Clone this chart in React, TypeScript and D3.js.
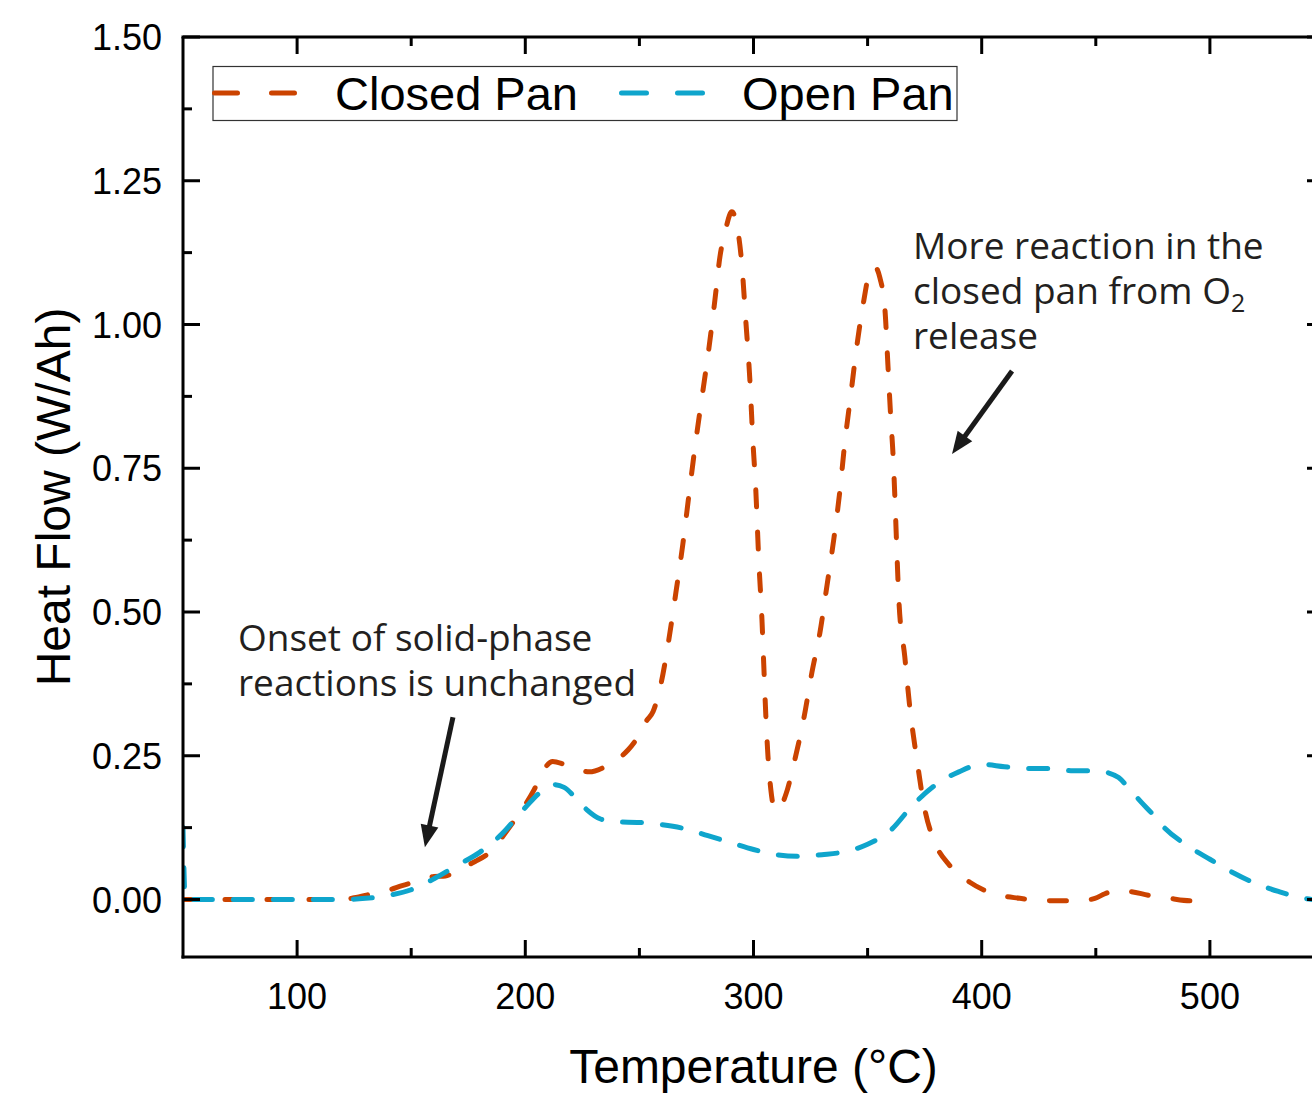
import React from "react";
import * as d3 from "d3";

// DSC heat flow vs temperature, closed vs open pan
const closedTemp = [
  50, 60, 80, 100, 120, 125, 132, 140, 146, 152, 160, 165, 172, 178, 186, 192, 198, 204, 208, 212,
  217, 222, 228, 235, 240, 245, 250, 253, 256, 259.4, 262.9, 266, 269, 272, 274.8, 277.4, 280.5,
  283.1, 285.3, 287.5, 290.5, 292.7, 294.9, 296.6, 298.4, 299.7, 301, 302.3, 303.7, 304.5, 305.4,
  306.3, 307.6, 309.4, 311.6, 314.2, 318.1, 322.1, 325.6, 329.1, 332.2, 335.2, 337.8, 340, 342.7,
  345.3, 348.4, 351, 353.2, 355.4, 357.6, 358.9, 360.2, 361.1, 362, 362.8, 363.7, 366.3, 368.5,
  371.6, 375.1, 379.5, 386, 394.8, 403.6, 416.7, 429.8, 443, 449.6, 454, 459.2, 464.9, 473.7,
  482.4, 491.2, 499,
];
const closedHeat = [
  0, 0, 0, 0, 0, 0.003, 0.009, 0.016, 0.024, 0.031, 0.04, 0.041, 0.055, 0.066, 0.088, 0.12, 0.153,
  0.192, 0.225, 0.24, 0.235, 0.228, 0.222, 0.231, 0.243, 0.26, 0.287, 0.31, 0.327, 0.374, 0.452,
  0.534, 0.617, 0.713, 0.8, 0.873, 0.96, 1.043, 1.118, 1.16, 1.196, 1.173, 1.104, 1.008, 0.904, 0.8,
  0.713, 0.591, 0.487, 0.408, 0.32, 0.252, 0.191, 0.156, 0.16, 0.183, 0.243, 0.316, 0.395, 0.464,
  0.546, 0.627, 0.709, 0.794, 0.88, 0.963, 1.043, 1.093, 1.1, 1.081, 1.026, 0.93, 0.834, 0.777,
  0.695, 0.608, 0.521, 0.422, 0.334, 0.243, 0.156, 0.099, 0.059, 0.03, 0.012, 0.002, -0.002,
  -0.002, 0.002, 0.01, 0.016, 0.014, 0.007, 0.002, -0.002, -0.002,
];

const openTemp = [
  50, 51, 60, 80, 100, 120, 130, 140, 150, 160, 170, 180, 190, 200, 207, 212, 217, 222, 227, 233,
  240, 250, 260, 270, 280, 290, 300, 310, 320, 330, 340, 350, 360, 370, 380, 390, 400, 410, 420,
  430, 440, 450, 455, 460, 465, 470, 475, 480, 490, 500, 510, 520, 530, 540, 545,
];
const openHeat = [
  0.125, 0, 0, 0, 0, 0, 0.002, 0.007, 0.017, 0.036, 0.059, 0.082, 0.115, 0.16, 0.188, 0.2, 0.195,
  0.177, 0.156, 0.14, 0.135, 0.134, 0.13, 0.123, 0.111, 0.099, 0.087, 0.078, 0.075, 0.078, 0.083,
  0.096, 0.12, 0.165, 0.2, 0.222, 0.235, 0.231, 0.228, 0.228, 0.224, 0.224, 0.221, 0.212, 0.191,
  0.169, 0.148, 0.125, 0.094, 0.07, 0.047, 0.028, 0.014, 0.003, 0,
];

const seriesNames = ["Closed Pan", "Open Pan"];
const seriesColors = ["#CB4300", "#0FA5CC"];

const xMajor = [100, 200, 300, 400, 500];
const xMinor = [150, 250, 350, 450];
const yMajor = [0, 0.25, 0.5, 0.75, 1.0, 1.25, 1.5];
const yMinor = [0.125, 0.375, 0.625, 0.875, 1.125, 1.375];

const xTitle = "Temperature (°C)";
const yTitle = "Heat Flow (W/Ah)";

const W = 1312;
const H = 1108;
const L = 183;
const R = 1324;
const T = 37;
const B = 957;

const axisFont = "'Liberation Sans', Arial, Helvetica, sans-serif";
const noteFont = "'Open Sans', 'Noto Sans', sans-serif";

function Arrow({ x1, y1, x2, y2 }: { x1: number; y1: number; x2: number; y2: number }) {
  const dx = x2 - x1;
  const dy = y2 - y1;
  const len = Math.hypot(dx, dy);
  const ux = dx / len;
  const uy = dy / len;
  const headLen = 22;
  const halfW = 9;
  const bx = x2 - ux * headLen;
  const by = y2 - uy * headLen;
  const px = -uy;
  const py = ux;
  return (
    <g>
      <line x1={x1} y1={y1} x2={bx + ux * 2} y2={by + uy * 2} stroke="#1a1a1a" strokeWidth={5} />
      <polygon
        points={`${x2},${y2} ${bx + px * halfW},${by + py * halfW} ${bx - px * halfW},${by - py * halfW}`}
        fill="#1a1a1a"
      />
    </g>
  );
}

export default function App() {
  const x = d3.scaleLinear().domain([50, 550]).range([L, R]);
  const y = d3.scaleLinear().domain([-0.1, 1.5]).range([B, T]);

  const closed = closedTemp.map((t, i) => [t, closedHeat[i]] as [number, number]);
  const open = openTemp.map((t, i) => [t, openHeat[i]] as [number, number]);

  const line = d3
    .line<[number, number]>()
    .x((d) => x(d[0]))
    .y((d) => y(d[1]))
    .curve(d3.curveMonotoneX);

  const fmtY = d3.format(".2f");

  // annotation anchors in data units
  const note1 = { t: 369.9, v: 1.114 };
  const note2 = { t: 74.1, v: 0.432 };
  const arrowA = { t1: 168.3, v1: 0.317, t2: 156.0, v2: 0.091 };
  const arrowB = { t1: 413.3, v1: 0.919, t2: 387.0, v2: 0.775 };

  return (
    <div style={{ position: "absolute", left: 0, top: 0 }}>
      <svg width={W} height={H} viewBox={`0 0 ${W} ${H}`} style={{ display: "block", background: "#fff" }}>
        <rect x={0} y={0} width={W} height={H} fill="#fff" />
        <defs>
          <clipPath id="plotClip">
            <rect x={L} y={T} width={R - L} height={B - T} />
          </clipPath>
        </defs>

        {/* data curves */}
        <g clipPath="url(#plotClip)" fill="none" strokeLinecap="round" strokeLinejoin="round">
          <path d={line(closed) || ""} stroke={seriesColors[0]} strokeWidth={5} strokeDasharray="17 25" />
          <path d={line(open) || ""} stroke={seriesColors[1]} strokeWidth={5} strokeDasharray="19 21" />
        </g>

        {/* frame */}
        <g stroke="#000" strokeWidth={3} fill="none">
          <line x1={L} y1={T} x2={L} y2={B + 1.5} />
          <line x1={L - 1.5} y1={B} x2={R} y2={B} />
          <line x1={L - 1.5} y1={T} x2={R} y2={T} />
          <line x1={R} y1={T} x2={R} y2={B} />
        </g>

        {/* ticks */}
        <g stroke="#000" strokeWidth={3}>
          {xMajor.map((v) => (
            <g key={`xm${v}`}>
              <line x1={x(v)} x2={x(v)} y1={B} y2={B - 17} />
              <line x1={x(v)} x2={x(v)} y1={T} y2={T + 17} />
            </g>
          ))}
          {xMinor.map((v) => (
            <g key={`xn${v}`}>
              <line x1={x(v)} x2={x(v)} y1={B} y2={B - 9} />
              <line x1={x(v)} x2={x(v)} y1={T} y2={T + 9} />
            </g>
          ))}
          {yMajor.map((v) => (
            <g key={`ym${v}`}>
              <line x1={L} x2={L + 17} y1={y(v)} y2={y(v)} />
              <line x1={R} x2={R - 17} y1={y(v)} y2={y(v)} />
            </g>
          ))}
          {yMinor.map((v) => (
            <g key={`yn${v}`}>
              <line x1={L} x2={L + 9} y1={y(v)} y2={y(v)} />
              <line x1={R} x2={R - 9} y1={y(v)} y2={y(v)} />
            </g>
          ))}
        </g>

        {/* tick labels */}
        <g fontFamily={axisFont} fontSize={36} fill="#000">
          {xMajor.map((v) => (
            <text key={`xl${v}`} x={x(v)} y={1009} textAnchor="middle">
              {v}
            </text>
          ))}
          {yMajor.map((v) => (
            <text key={`yl${v}`} x={162} y={y(v) + 13} textAnchor="end">
              {fmtY(v)}
            </text>
          ))}
        </g>

        {/* axis titles */}
        <text x={(L + R) / 2} y={1083} textAnchor="middle" fontFamily={axisFont} fontSize={48} fill="#000">
          {xTitle}
        </text>
        <text
          transform={`translate(70, ${(T + B) / 2}) rotate(-90)`}
          textAnchor="middle"
          fontFamily={axisFont}
          fontSize={48}
          fill="#000"
        >
          {yTitle}
        </text>

        {/* legend */}
        <g>
          <rect x={213} y={66.5} width={744} height={54} fill="#fff" stroke="#333" strokeWidth={1.2} />
          <line x1={214.5} x2={294.5} y1={93} y2={93} stroke={seriesColors[0]} strokeWidth={5} strokeLinecap="round" strokeDasharray="23 34" />
          <text x={335} y={110} fontFamily={axisFont} fontSize={47} fill="#000">
            {seriesNames[0]}
          </text>
          <line x1={621.5} x2={702.5} y1={93} y2={93} stroke={seriesColors[1]} strokeWidth={5} strokeLinecap="round" strokeDasharray="25 31" />
          <text x={742} y={110} fontFamily={axisFont} fontSize={47} fill="#000">
            {seriesNames[1]}
          </text>
        </g>

        {/* annotations */}
        <g fontFamily={noteFont} fontSize={37} fill="#231f20">
          <text x={x(note1.t)} y={y(note1.v)}>More reaction in the</text>
          <text x={x(note1.t)} y={y(note1.v) + 45}>
            closed pan from O
            <tspan fontSize={25} dy={8}>2</tspan>
          </text>
          <text x={x(note1.t)} y={y(note1.v) + 90}>release</text>
          <text x={x(note2.t)} y={y(note2.v)}>Onset of solid-phase</text>
          <text x={x(note2.t)} y={y(note2.v) + 45}>reactions is unchanged</text>
        </g>
        <Arrow x1={x(arrowA.t1)} y1={y(arrowA.v1)} x2={x(arrowA.t2)} y2={y(arrowA.v2)} />
        <Arrow x1={x(arrowB.t1)} y1={y(arrowB.v1)} x2={x(arrowB.t2)} y2={y(arrowB.v2)} />
      </svg>
    </div>
  );
}
